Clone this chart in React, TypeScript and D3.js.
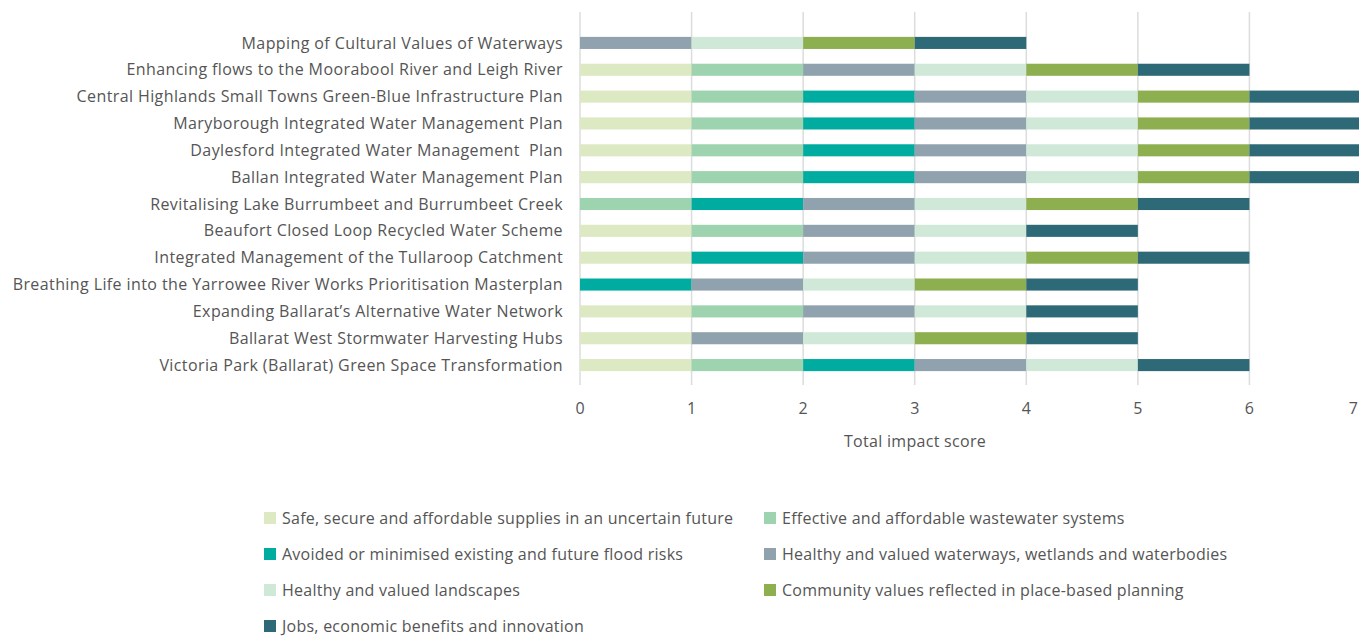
import React from "react";
import * as d3 from "d3";

// projects, top to bottom
const projects = [
  "Mapping of Cultural Values of Waterways",
  "Enhancing flows to the Moorabool River and Leigh River",
  "Central Highlands Small Towns Green-Blue Infrastructure Plan",
  "Maryborough Integrated Water Management Plan",
  "Daylesford Integrated Water Management  Plan",
  "Ballan Integrated Water Management Plan",
  "Revitalising Lake Burrumbeet and Burrumbeet Creek",
  "Beaufort Closed Loop Recycled Water Scheme",
  "Integrated Management of the Tullaroop Catchment",
  "Breathing Life into the Yarrowee River Works Prioritisation Masterplan",
  "Expanding Ballarat\u2019s Alternative Water Network",
  "Ballarat West Stormwater Harvesting Hubs",
  "Victoria Park (Ballarat) Green Space Transformation",
];

const seriesNames = [
  "Safe, secure and affordable supplies in an uncertain future",
  "Effective and affordable wastewater systems",
  "Avoided or minimised existing and future flood risks",
  "Healthy and valued waterways, wetlands and waterbodies",
  "Healthy and valued landscapes",
  "Community values reflected in place-based planning",
  "Jobs, economic benefits and innovation",
];

const seriesColors = ["#dce9c3", "#9dd3ae", "#00aca0", "#8fa2ad", "#cfe8d8", "#8eaf50", "#2e6977"];

// one column per series, same order as projects
const supplies = [0, 1, 1, 1, 1, 1, 0, 1, 1, 0, 1, 1, 1];
const wastewater = [0, 1, 1, 1, 1, 1, 1, 1, 0, 0, 1, 0, 1];
const flood = [0, 0, 1, 1, 1, 1, 1, 0, 1, 1, 0, 0, 1];
const waterways = [1, 1, 1, 1, 1, 1, 1, 1, 1, 1, 1, 1, 1];
const landscapes = [1, 1, 1, 1, 1, 1, 1, 1, 1, 1, 1, 1, 1];
const community = [1, 1, 1, 1, 1, 1, 1, 0, 1, 1, 0, 1, 0];
const jobs = [1, 1, 1, 1, 1, 1, 1, 1, 1, 1, 1, 1, 1];

const xTicks = [0, 1, 2, 3, 4, 5, 6, 7];

const FONT = "'Open Sans', sans-serif";
const TEXT = "#555";

const App = () => {
  const width = 1359;
  const height = 637;
  const columns = [supplies, wastewater, flood, waterways, landscapes, community, jobs];

  const rows = projects.map((p, i) => {
    const r: any = { project: p };
    seriesNames.forEach((s, j) => (r[s] = columns[j][i]));
    return r;
  });
  const stacked = d3.stack().keys(seriesNames)(rows);

  const x = d3.scaleLinear().domain([0, 7]).range([580, 1361]);
  const y = d3
    .scaleBand()
    .domain(projects)
    .range([29.5, 378.5])
    .paddingInner(0.55)
    .paddingOuter(0.275);

  const legendCols = [264, 764];
  const legendY = d3.scalePoint().domain(["0", "1", "2", "3"]).range([518, 626]);

  return (
    <svg
      width={width}
      height={height}
      style={{ position: "absolute", left: 0, top: 0, background: "#fff" }}
      fontFamily={FONT}
    >
      {xTicks.map((t) => (
        <line key={t} x1={x(t)} x2={x(t)} y1={12} y2={385} stroke="#dcdcdc" strokeWidth={1.5} />
      ))}
      {stacked.map((layer, j) => (
        <g key={layer.key} fill={seriesColors[j]}>
          {layer.map((d, i) =>
            d[1] - d[0] > 0 ? (
              <rect
                key={i}
                x={x(d[0])}
                y={y(projects[i])}
                width={x(d[1]) - x(d[0])}
                height={y.bandwidth()}
              />
            ) : null
          )}
        </g>
      ))}
      {projects.map((p) => (
        <text
          key={p}
          x={563}
          y={(y(p) as number) + y.bandwidth() / 2}
          dy="0.35em"
          textAnchor="end"
          fontSize={16}
          letterSpacing={0.4}
          fill={TEXT}
          style={{ whiteSpace: "pre" }}
        >
          {p}
        </text>
      ))}
      {xTicks.map((t, i) => {
        const last = i === xTicks.length - 1;
        return (
          <text
            key={t}
            x={last ? width - 1 : x(t)}
            y={408}
            dy="0.35em"
            textAnchor={last ? "end" : "middle"}
            fontSize={16}
            fill={TEXT}
          >
            {t}
          </text>
        );
      })}
      <text x={915} y={441} dy="0.35em" textAnchor="middle" fontSize={16} letterSpacing={0.3} fill={TEXT}>
        Total impact score
      </text>
      {seriesNames.map((s, j) => {
        const lx = legendCols[j % 2];
        const ly = legendY(String(Math.floor(j / 2))) as number;
        return (
          <g key={s}>
            <rect x={lx} y={ly - 6} width={12} height={12} fill={seriesColors[j]} />
            <text x={lx + 18} y={ly} dy="0.35em" fontSize={16} letterSpacing={0.25} fill={TEXT}>
              {s}
            </text>
          </g>
        );
      })}
    </svg>
  );
};

export default App;
